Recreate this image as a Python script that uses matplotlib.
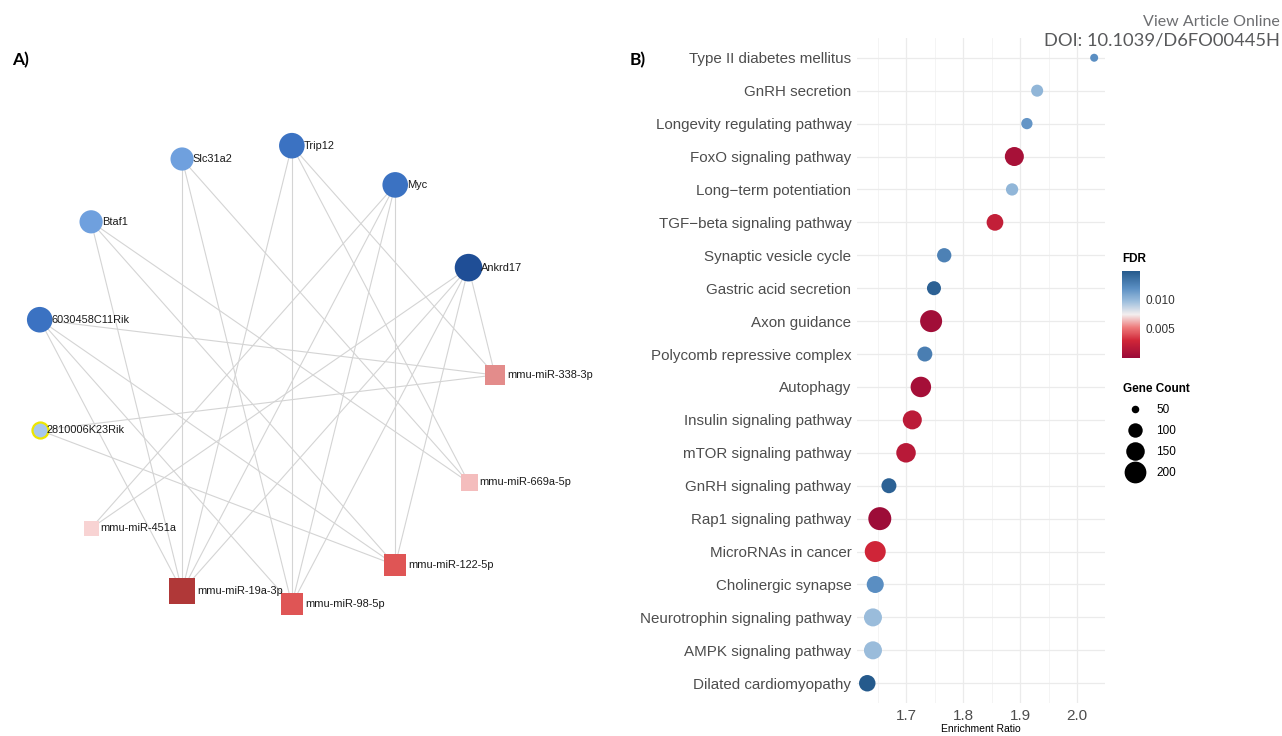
import numpy as np
import matplotlib.pyplot as plt
from matplotlib.colors import LinearSegmentedColormap, Normalize
from matplotlib.lines import Line2D
from matplotlib.cm import ScalarMappable

plt.rcParams['font.family'] = ['Liberation Sans', 'DejaVu Sans']

# ---------------- A) gene / miRNA network ----------------
genes = ["Ankrd17", "Myc", "Trip12", "Slc31a2", "Btaf1",
         "6030458C11Rik", "2810006K23Rik"]
mirnas = ["mmu-miR-451a", "mmu-miR-19a-3p", "mmu-miR-98-5p",
          "mmu-miR-122-5p", "mmu-miR-669a-5p", "mmu-miR-338-3p"]
edges = [
    ("Slc31a2", "mmu-miR-19a-3p"), ("Slc31a2", "mmu-miR-98-5p"), ("Slc31a2", "mmu-miR-669a-5p"),
    ("Trip12", "mmu-miR-98-5p"), ("Trip12", "mmu-miR-19a-3p"),
    ("Trip12", "mmu-miR-669a-5p"), ("Trip12", "mmu-miR-338-3p"),
    ("Myc", "mmu-miR-122-5p"), ("Myc", "mmu-miR-98-5p"),
    ("Myc", "mmu-miR-19a-3p"), ("Myc", "mmu-miR-451a"),
    ("Btaf1", "mmu-miR-19a-3p"), ("Btaf1", "mmu-miR-122-5p"), ("Btaf1", "mmu-miR-669a-5p"),
    ("Ankrd17", "mmu-miR-338-3p"), ("Ankrd17", "mmu-miR-122-5p"), ("Ankrd17", "mmu-miR-98-5p"),
    ("Ankrd17", "mmu-miR-19a-3p"), ("Ankrd17", "mmu-miR-451a"),
    ("6030458C11Rik", "mmu-miR-338-3p"), ("6030458C11Rik", "mmu-miR-19a-3p"),
    ("6030458C11Rik", "mmu-miR-98-5p"), ("6030458C11Rik", "mmu-miR-122-5p"),
    ("2810006K23Rik", "mmu-miR-338-3p"), ("2810006K23Rik", "mmu-miR-122-5p"),
]

# ---------------- B) KEGG enrichment ----------------
terms = ["Type II diabetes mellitus", "GnRH secretion", "Longevity regulating pathway",
         "FoxO signaling pathway", "Long\u2212term potentiation", "TGF\u2212beta signaling pathway",
         "Synaptic vesicle cycle", "Gastric acid secretion", "Axon guidance",
         "Polycomb repressive complex", "Autophagy", "Insulin signaling pathway",
         "mTOR signaling pathway", "GnRH signaling pathway", "Rap1 signaling pathway",
         "MicroRNAs in cancer", "Cholinergic synapse", "Neurotrophin signaling pathway",
         "AMPK signaling pathway", "Dilated cardiomyopathy"]
enrichment = [2.03, 1.93, 1.912, 1.89, 1.886, 1.856, 1.767, 1.749, 1.744, 1.733,
              1.726, 1.711, 1.70, 1.67, 1.654, 1.646, 1.646, 1.642, 1.642, 1.632]
fdr = [0.0118, 0.0100, 0.0115, 0.0008, 0.0100, 0.0023, 0.0125, 0.0143, 0.0005, 0.0127,
       0.0007, 0.0019, 0.0017, 0.0143, 0.0003, 0.0030, 0.0118, 0.0097, 0.0097, 0.0147]
gene_count = [52, 78, 72, 157, 80, 126, 99, 96, 204, 106,
              179, 157, 164, 106, 221, 187, 130, 143, 143, 123]
legend_counts = [50, 100, 150, 200]


def dot_size(count):
    d_px = 2.8 + 1.5 * np.sqrt(np.asarray(count, dtype=float) - 40)
    return (d_px * 0.72) ** 2


fig = plt.figure(figsize=(12.82, 7.36), dpi=100)

# ---- network panel (axes in pixel units) ----
ax1 = fig.add_axes([0, 0, 0.5, 1])
ax1.set_xlim(0, 641)
ax1.set_ylim(736, 0)
ax1.axis("off")

nodes = genes + mirnas
n = len(nodes)
cx, cy, R = 264, 375, 231
theta = (np.arange(n) + 1) * 2 * np.pi / n
pos = {nd: (cx + R * np.cos(t), cy - R * np.sin(t)) for nd, t in zip(nodes, theta)}
degree = {nd: sum(nd in e for e in edges) for nd in nodes}

gene_col = {2: "#A8C8EC", 3: "#6FA0DE", 4: "#3B72C2", 5: "#1F4E96"}
gene_r = {2: 8, 3: 11.6, 4: 12.8, 5: 13.8}
mir_col = {2: "#F8D3D3", 3: "#F4BDBD", 4: "#E38C8B", 5: "#DF5555", 6: "#B03838"}
mir_side = {2: 15, 3: 17, 4: 20, 5: 23, 6: 26}

for a, b in edges:
    ax1.plot([pos[a][0], pos[b][0]], [pos[a][1], pos[b][1]],
             color="#D4D4D4", lw=0.8, zorder=1)

for g in genes:
    x, y = pos[g]
    d = degree[g]
    r = gene_r[d]
    edge = "#EDE600" if d == 2 else "none"
    ax1.scatter(x, y, s=(2 * r * 0.72) ** 2, c=gene_col[d], edgecolors=edge,
                linewidths=1.6, zorder=3)
    ax1.text(x + r - 1, y, g, fontsize=7.9, va="center", ha="left", color="#1A1A1A", zorder=4)

for m in mirnas:
    x, y = pos[m]
    d = degree[m]
    side = mir_side[d]
    ax1.scatter(x, y, s=(side * 0.72) ** 2, c=mir_col[d], marker="s",
                linewidths=0, zorder=3)
    ax1.text(x + side / 2 + 2, y, m, fontsize=7.9, va="center", ha="left", color="#1A1A1A", zorder=4)

# ---- dot plot panel ----
cmap = LinearSegmentedColormap.from_list(
    "fdr", [(0.0, "#9A0A38"), (0.2, "#D02638"), (0.35, "#EE7B7B"), (0.5, "#F3EEEE"),
            (0.65, "#9EBFDD"), (0.8, "#5B8FC3"), (1.0, "#255A8C")])
norm = Normalize(vmin=0.0001, vmax=0.0147)

ax2 = fig.add_axes([857 / 1282, 1 - 703 / 736, 248 / 1282, 665 / 736])
ypos = np.arange(len(terms))
ax2.scatter(enrichment, ypos, s=dot_size(gene_count), c=fdr, cmap=cmap, norm=norm,
            linewidths=0, zorder=3)
ax2.set_ylim(len(terms) - 0.4, -0.6)
ax2.set_xlim(1.614, 2.049)
ax2.set_yticks(ypos)
ax2.set_yticklabels(terms)
ax2.set_xticks([1.7, 1.8, 1.9, 2.0])
ax2.set_xticks([1.65, 1.75, 1.85, 1.95], minor=True)
ax2.grid(True, which="major", color="#EBEBEB", lw=0.9, zorder=0)
ax2.grid(True, which="minor", axis="x", color="#F3F3F3", lw=0.6, zorder=0)
for s in ax2.spines.values():
    s.set_visible(False)
ax2.tick_params(axis="y", length=0, pad=4, labelsize=10.9, labelcolor="#4D4D4D")
ax2.tick_params(axis="x", which="both", length=0, pad=4, labelsize=11, labelcolor="#4D4D4D")
ax2.set_xlabel("Enrichment Ratio", fontsize=7.5, labelpad=1)

# colour bar legend
cax = fig.add_axes([1122 / 1282, 1 - 358 / 736, 18 / 1282, 87 / 736])
cb = fig.colorbar(ScalarMappable(norm=norm, cmap=cmap), cax=cax)
cb.outline.set_visible(False)
cb.set_ticks([0.005, 0.010])
cb.ax.set_yticklabels(["0.005", "0.010"])
cb.ax.tick_params(length=0, pad=4, labelsize=8.5, labelcolor="#333333")
fig.text(1122 / 1282, 1 - 259 / 736, "FDR", fontsize=8.5, fontweight="bold", va="center")

# size legend
handles = [Line2D([], [], marker="o", ls="", color="black", markeredgewidth=0,
                  markersize=np.sqrt(dot_size(c))) for c in legend_counts]
fig.legend(handles, [str(c) for c in legend_counts], title="Gene Count",
           loc="upper left", bbox_to_anchor=(1115 / 1282, 1 - 375 / 736),
           frameon=False, fontsize=8.5, title_fontproperties={"weight": "bold", "size": 8.5},
           alignment="left", labelspacing=0.75, handletextpad=0.8, borderpad=0.2)

# panel labels and header
fig.text(12 / 1282, 1 - 60 / 736, "A)", fontsize=12.5, fontweight="bold", va="center",
         family=["Lato", "DejaVu Sans"])
fig.text(630 / 1282, 1 - 60 / 736, "B)", fontsize=12.5, fontweight="bold", va="center",
         family=["Lato", "DejaVu Sans"])
fig.text(1280 / 1282, 1 - 22 / 736, "View Article Online", fontsize=11.5, ha="right",
         va="center", color="#6D6E71", family=["Lato", "DejaVu Sans"])
fig.text(1280 / 1282, 1 - 41 / 736, "DOI: 10.1039/D6FO00445H", fontsize=13.2, ha="right",
         va="center", color="#58595B", family=["Lato", "DejaVu Sans"])

fig.savefig("out.png", dpi=100)
